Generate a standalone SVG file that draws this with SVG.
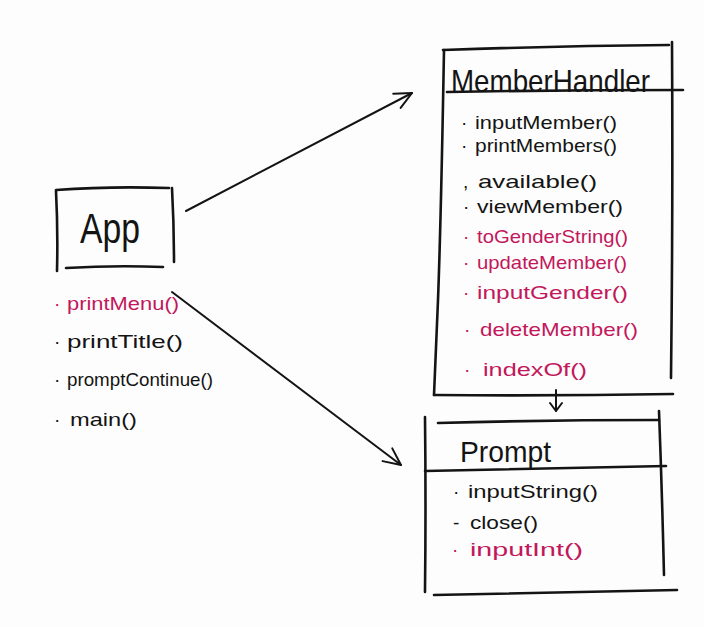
<svg xmlns="http://www.w3.org/2000/svg" width="704" height="627" viewBox="0 0 704 627">
<style>
.ln{fill:none;stroke:#141414;stroke-width:2.6;stroke-linecap:round;stroke-linejoin:round}
.cn{fill:none;stroke:#141414;stroke-width:2;stroke-linecap:round}
.t{font-family:"Liberation Sans",Arial,sans-serif;font-size:19px;fill:#141414}
.m{fill:#c2185b}
.ti{font-family:"Liberation Sans",Arial,sans-serif;fill:#141414}
</style>
<defs>
<marker id="ah" markerUnits="userSpaceOnUse" viewBox="-20 -12 24 24" refX="0" refY="0" markerWidth="24" markerHeight="24" orient="auto">
<path d="M-17,-8 L0,0 L-17,8" fill="none" stroke="#141414" stroke-width="2" stroke-linecap="round" stroke-linejoin="round"/>
</marker>
<marker id="ahs" markerUnits="userSpaceOnUse" viewBox="-12 -8 16 16" refX="0" refY="0" markerWidth="16" markerHeight="16" orient="auto">
<path d="M-8,-6 L0,0 L-8,6" fill="none" stroke="#141414" stroke-width="2" stroke-linecap="round" stroke-linejoin="round"/>
</marker>
</defs>
<rect width="704" height="627" fill="#fdfdfd"/>

<g id="connectors">
<path class="cn" d="M186,211 L412,93" marker-end="url(#ah)"/>
<path class="cn" d="M172,292 L401,465" marker-end="url(#ah)"/>
<path class="cn" d="M556,390 L556,411" marker-end="url(#ahs)"/>
</g>

<g id="App">
<path class="ln" d="M56,191 Q58,230 57,271"/>
<path class="ln" d="M56,190 Q110,186 169,188"/>
<path class="ln" d="M172,188 Q174,225 174,262"/>
<path class="ln" d="M66,268 Q115,265 163,267"/>
<text class="ti" x="80" y="243" font-size="42" textLength="60" lengthAdjust="spacingAndGlyphs">App</text>
<text class="t m" x="54" y="310">·</text>
<text class="t m" x="67" y="310" textLength="112" lengthAdjust="spacingAndGlyphs">printMenu()</text>
<text class="t" x="54" y="348">·</text>
<text class="t" x="67" y="348" textLength="116" lengthAdjust="spacingAndGlyphs">printTitle()</text>
<text class="t" x="54" y="386">·</text>
<text class="t" x="67" y="386" textLength="146" lengthAdjust="spacingAndGlyphs">promptContinue()</text>
<text class="t" x="54" y="426">·</text>
<text class="t" x="70" y="426" textLength="67" lengthAdjust="spacingAndGlyphs">main()</text>
</g>

<g id="MemberHandler">
<path class="ln" d="M443,50 Q555,46 669,45"/>
<path class="ln" d="M444,50 Q441,220 438,300 Q436,350 434,395"/>
<path class="ln" d="M672,42 Q673,210 671,378"/>
<path class="ln" d="M447,92 Q565,90 683,90"/>
<path class="ln" d="M434,395 Q555,396 673,394"/>
<text class="ti" x="451" y="92" font-size="32" textLength="199" lengthAdjust="spacingAndGlyphs">MemberHandler</text>
<text class="t" x="461" y="129">·</text>
<text class="t" x="475" y="129" textLength="142" lengthAdjust="spacingAndGlyphs">inputMember()</text>
<text class="t" x="461" y="152">·</text>
<text class="t" x="475" y="152" textLength="142" lengthAdjust="spacingAndGlyphs">printMembers()</text>
<text class="t" x="463" y="188">,</text>
<text class="t" x="478" y="188" textLength="119" lengthAdjust="spacingAndGlyphs">available()</text>
<text class="t" x="463" y="213">·</text>
<text class="t" x="477" y="213" textLength="146" lengthAdjust="spacingAndGlyphs">viewMember()</text>
<text class="t m" x="463" y="243">·</text>
<text class="t m" x="477" y="243" textLength="151" lengthAdjust="spacingAndGlyphs">toGenderString()</text>
<text class="t m" x="463" y="269">·</text>
<text class="t m" x="477" y="269" textLength="150" lengthAdjust="spacingAndGlyphs">updateMember()</text>
<text class="t m" x="463" y="299">·</text>
<text class="t m" x="477" y="299" textLength="151" lengthAdjust="spacingAndGlyphs">inputGender()</text>
<text class="t m" x="464" y="336">·</text>
<text class="t m" x="480" y="336" textLength="158" lengthAdjust="spacingAndGlyphs">deleteMember()</text>
<text class="t m" x="464" y="376">·</text>
<text class="t m" x="483" y="376" textLength="104" lengthAdjust="spacingAndGlyphs">indexOf()</text>
</g>

<g id="Prompt">
<path class="ln" d="M438,423 Q548,420 659,420"/>
<path class="ln" d="M425,417 Q426,505 425,592"/>
<path class="ln" d="M659,411 Q662,490 664,575"/>
<path class="ln" d="M425,471 Q545,468 666,466"/>
<path class="ln" d="M434,595 Q555,592 677,590"/>
<text class="ti" x="460" y="462" font-size="30" textLength="91" lengthAdjust="spacingAndGlyphs">Prompt</text>
<text class="t" x="453" y="498">·</text>
<text class="t" x="468" y="498" textLength="130" lengthAdjust="spacingAndGlyphs">inputString()</text>
<text class="t" x="453" y="529">-</text>
<text class="t" x="470" y="529" textLength="68" lengthAdjust="spacingAndGlyphs">close()</text>
<text class="t m" x="452" y="556">·</text>
<text class="t m" x="470" y="556" textLength="113" lengthAdjust="spacingAndGlyphs">inputInt()</text>
</g>
</svg>
